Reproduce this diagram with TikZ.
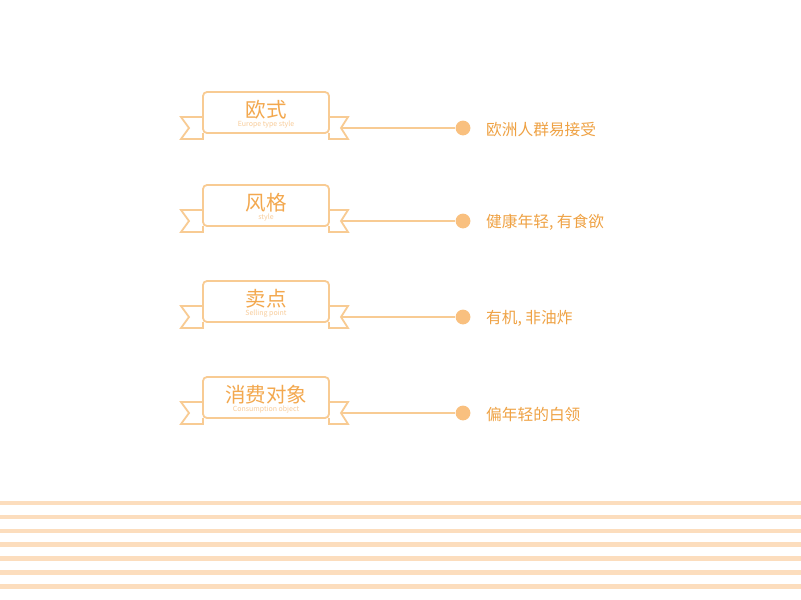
\documentclass[tikz,border=0pt]{standalone}
\usepackage{fontspec}
\newfontfamily\cjk{Noto Sans CJK SC}
\definecolor{rib}{HTML}{F8CB93}
\definecolor{ttl}{HTML}{F3A84E}
\definecolor{subc}{HTML}{F8CC9A}
\definecolor{dotc}{HTML}{F9C07F}
\definecolor{stripe}{HTML}{FCDDBD}
\definecolor{txt}{HTML}{EFA244}
\tikzset{
  banner/.style={draw=rib, line width=1.8pt, rounded corners=4pt, minimum width=126pt, minimum height=41pt, inner sep=0pt},
  ribline/.style={draw=rib, line width=1.8pt, line join=miter},
  conn/.style={draw=rib, line width=1.6pt},
  dotn/.style={circle, fill=dotc, minimum size=14.8pt, inner sep=0pt},
  ttlt/.style={font=\cjk\fontsize{20.5}{22}\selectfont, text=ttl, inner sep=0pt},
  subt/.style={font=\cjk\fontsize{7}{8}\selectfont, text=subc, inner sep=0pt},
  rtext/.style={font=\cjk\fontsize{15.7}{17}\selectfont, text=txt, inner sep=0pt, anchor=west}
}
\begin{document}
\begin{tikzpicture}[x=1pt,y=-1pt]
\useasboundingbox (0,0) rectangle (801,600);
\fill[white] (0,0) rectangle (801,600);
\foreach \d/\t/\s/\r/\n in {0/欧式/Europe type style/欧洲人群易接受/1,
  93/风格/style/{健康年轻, 有食欲}/2,
  189/卖点/Selling point/{有机, 非油炸}/3,
  285/消费对象/Consumption object/偏年轻的白领/4}{
  \draw[ribline] (203,133+\d) -- (203,139+\d) -- (181,139+\d) -- (189,128+\d) -- (181,117+\d) -- (203,117+\d);
  \draw[ribline] (329,133+\d) -- (329,139+\d) -- (348,139+\d) -- (341,128+\d) -- (348,117+\d) -- (329,117+\d);
  \node[banner, fill=white] (b\n) at (266,112.5+\d) {};
  \node[ttlt] (t\n) at (266,110+\d) {\t};
  \node[subt] (s\n) at (266,124.5+\d) {\s};
  \coordinate (n\n) at (341,128+\d);
  \node[dotn] (c\n) at (463,128+\d) {};
  \draw[conn] (n\n) -- (c\n);
  \node[rtext] (r\n) at (486,129.5+\d) {\r};
}
\foreach \y in {502.7,516.7,530.7,544.5,558.4,572.3,586.5}{
  \fill[stripe] (0,\y-2.2) rectangle (801,\y+2.2);
}
\end{tikzpicture}
\end{document}
